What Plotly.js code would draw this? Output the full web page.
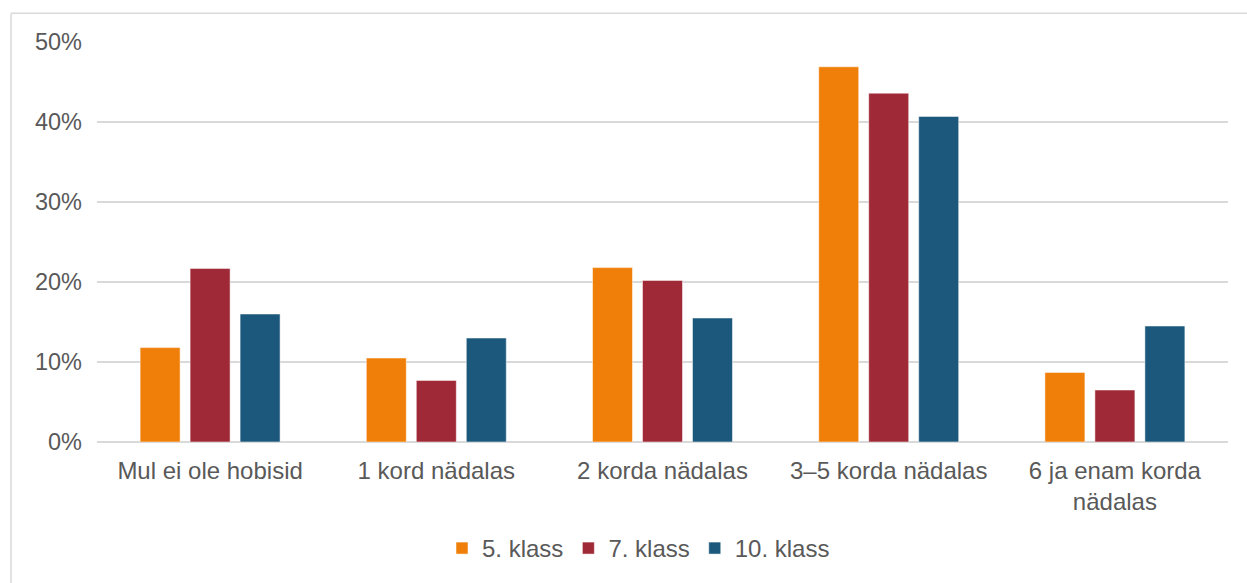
<!DOCTYPE html>
<html>
<head>
<meta charset="utf-8">
<script src="https://cdn.plot.ly/plotly-3.0.1.min.js"></script>
<style>
html,body{margin:0;padding:0;background:#fff;}
#chart{width:1247px;height:583px;}
</style>
</head>
<body>
<div id="chart"></div>
<script>
const categories = ["Mul ei ole hobisid", "1 kord nädalas", "2 korda nädalas", "3–5 korda nädalas", "6 ja enam korda<br>nädalas"];
const seriesNames = ["5. klass", "7. klass", "10. klass"];
const klass5 = [11.8, 10.5, 21.8, 46.9, 8.7];
const klass7 = [21.7, 7.7, 20.2, 43.6, 6.5];
const klass10 = [16.0, 13.0, 15.5, 40.7, 14.5];
const colors = ["#F07F09", "#9F2936", "#1B587C"];
const tickVals = [0, 10, 20, 30, 40, 50];

const values = [klass5, klass7, klass10];
const traces = values.map((v, i) => ({
  type: "bar",
  name: seriesNames[i],
  x: categories,
  y: v,
  marker: {color: colors[i], line: {color: "rgba(255,255,255,0.5)", width: 1}},
  hoverinfo: "y+name"
}));

const W = 1247, H = 583, ml = 97, mr = 19, mt = 42, mb = 139;
const pw = W - ml - mr, ph = H - mt - mb;
const px = x => (x - ml) / pw;
const py = y => (H - mb - y) / ph;

const layout = {
  width: W, height: H,
  margin: {l: ml, r: mr, t: mt, b: mb, pad: 0},
  paper_bgcolor: "#ffffff",
  plot_bgcolor: "#ffffff",
  font: {family: "Liberation Sans, Arial, sans-serif", size: 24, color: "#595959"},
  barmode: "group",
  bargap: 0.337,
  bargroupgap: 0.2,
  showlegend: true,
  legend: {
    orientation: "h",
    x: px(442), xanchor: "left",
    y: py(551), yanchor: "middle",
    font: {size: 24, color: "#595959"},
    itemclick: false, itemdoubleclick: false,
    traceorder: "normal",
    itemgap: 2
  },
  xaxis: {
    type: "category",
    showgrid: false,
    showline: false,
    zeroline: false,
    ticks: "",
    tickfont: {size: 24, color: "#595959"},
    ticklabelstandoff: 12,
    fixedrange: true
  },
  yaxis: {
    range: [0, 50],
    tickvals: tickVals,
    ticktext: tickVals.map(v => v + "%"),
    showgrid: true,
    gridcolor: "#D9D9D9",
    gridwidth: 1.5,
    zeroline: true,
    zerolinecolor: "#D9D9D9",
    zerolinewidth: 1.5,
    showline: false,
    ticks: "",
    tickfont: {size: 23.5, color: "#595959"},
    ticklabelstandoff: 14,
    fixedrange: true
  },
  shapes: [
    {type: "line", xref: "paper", yref: "paper", x0: px(11), x1: px(11), y0: py(13), y1: py(590), line: {color: "#D9D9D9", width: 1.5}},
    {type: "line", xref: "paper", yref: "paper", x0: px(11), x1: px(1260), y0: py(13), y1: py(13), line: {color: "#D9D9D9", width: 1.5}}
  ]
};

Plotly.newPlot("chart", traces, layout, {displayModeBar: false, staticPlot: false, responsive: false});
</script>
</body>
</html>
